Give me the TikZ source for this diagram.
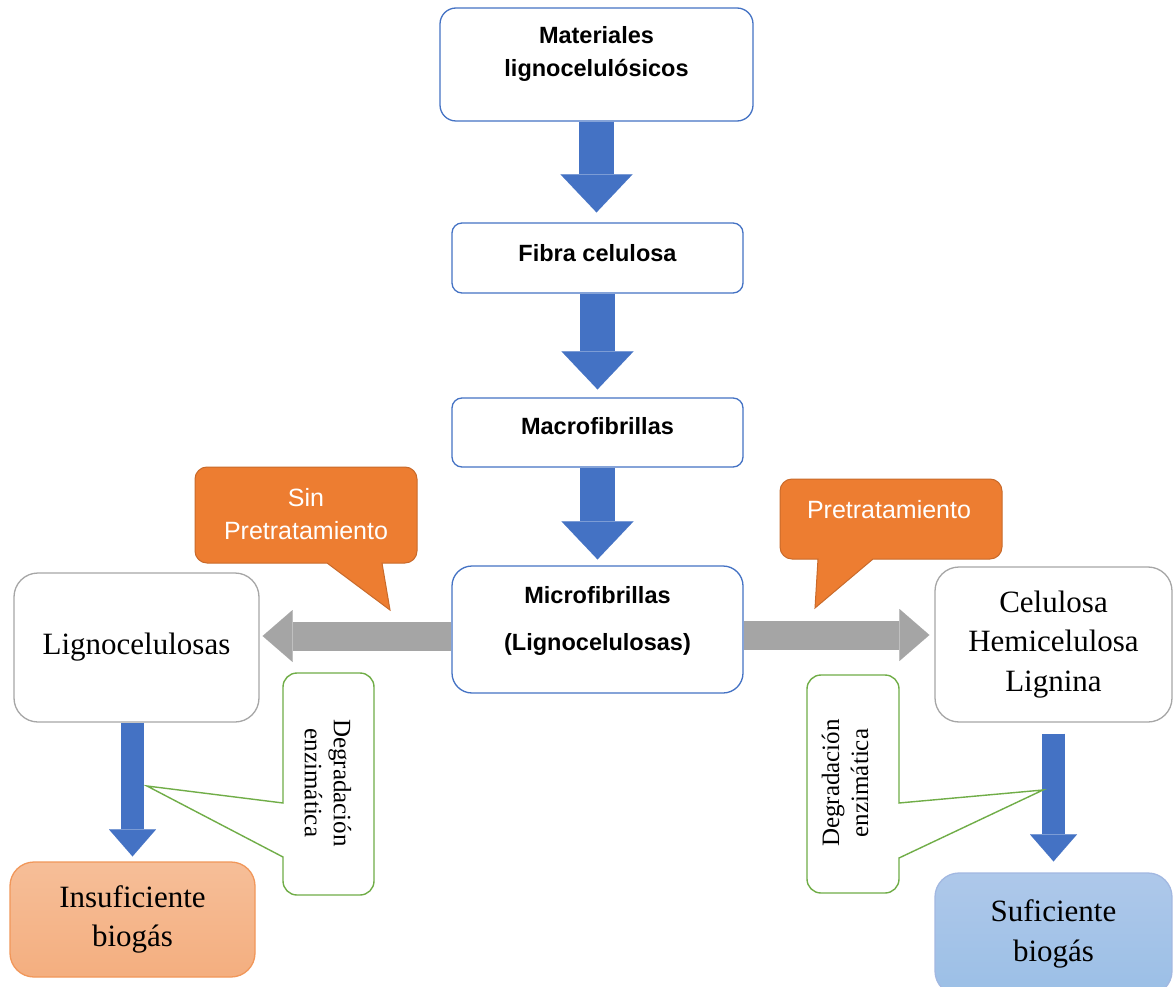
\documentclass[tikz,border=0pt]{standalone}
\usepackage{fontspec}
\setmainfont{Liberation Serif}
\setsansfont{Liberation Sans}
\usepackage{xcolor}
\usepackage{tikz}
\usetikzlibrary{arrows.meta}
\definecolor{boxblue}{HTML}{4472C4}
\definecolor{boxgray}{HTML}{A6A6A6}
\definecolor{arrowgray}{HTML}{A5A5A5}
\definecolor{callorange}{HTML}{ED7D31}
\definecolor{callgreen}{HTML}{70AD47}
\definecolor{biotop}{HTML}{AEC8EA}
\definecolor{biobottom}{HTML}{9BBFE6}
\tikzset{ flow_box/.style = {rectangle, rounded corners=16pt, draw=boxblue, line width=1.3pt, fill=white, align=center, font=\fontsize{23.5}{33}\selectfont\sffamily\bfseries} }
\tikzset{ gray_box/.style = {rectangle, rounded corners=24pt, draw=boxgray, line width=1.3pt, fill=white, align=center, font=\fontsize{31}{39.5}\selectfont} }
\tikzset{ down_arrow/.style = {draw=boxblue, line width=35pt, -{Triangle[length=38pt,width=72pt,line width=0.01pt]}} }
\tikzset{ small_arrow/.style = {draw=boxblue, line width=23pt, -{Triangle[length=27pt,width=47pt,line width=0.01pt]}} }
\tikzset{ side_arrow/.style = {draw=arrowgray, line width=29pt, -{Triangle[length=30pt,width=52pt,line width=0.01pt]}} }
\tikzset{ orange_call/.style = {fill=callorange, draw=callorange!85!black, line width=1pt} }
\tikzset{ green_call/.style = {fill=white, draw=callgreen, line width=1.4pt} }

\begin{document}
\begin{tikzpicture}[x=1pt,y=-1pt]
        \useasboundingbox[fill=white] (0,0) rectangle (1173,987);
        \node[flow_box, minimum width=313pt, minimum height=113pt, text depth=27pt] (1) at (596.5,64.5) {Materiales\\lignocelulósicos};
        \node[flow_box, rounded corners=10pt, minimum width=291pt, minimum height=70pt, text depth=10pt] (2) at (597.5,258) {Fibra celulosa};
        \node[flow_box, rounded corners=10pt, minimum width=291pt, minimum height=69pt, text depth=14pt] (3) at (597.5,432.5) {Macrofibrillas};
        \node[flow_box, rounded corners=20pt, minimum width=291pt, minimum height=127pt, text depth=22pt] (4) at (597.5,629.5) {Microfibrillas\\[14pt](Lignocelulosas)};
        \node[gray_box, minimum width=245pt, minimum height=149pt] (5) at (136.5,647.5) {Lignocelulosas};
        \node[gray_box, minimum width=237pt, minimum height=155pt] (6) at (1053.5,644.5) {Celulosa\\Hemicelulosa\\Lignina};
        \node[gray_box, draw=callorange!80, top color=callorange!50, bottom color=callorange!62, minimum width=245pt, minimum height=115pt] (7) at (132.5,919.5) {Insuficiente\\biogás};
        \node[gray_box, draw=boxblue!50, top color=biotop, bottom color=biobottom, minimum width=237pt, minimum height=122pt] (8) at (1053.5,934) {Suficiente\\biogás};
        \draw[down_arrow, shorten >=10pt] (1.south) -- (1.south |- 2.north);
        \draw[down_arrow, shorten >=8pt] (2.south) -- (3.north);
        \draw[down_arrow, shorten >=6pt] (3.south) -- (4.north);
        \draw[side_arrow, shorten >=3pt] (4.west |- 0,636) -- (5.east |- 0,636);
        \draw[side_arrow, shorten >=5pt] (4.east |- 0,635) -- (6.west |- 0,635);
        \draw[small_arrow, shorten >=5pt] (7.north |- 5.south) -- (7.north);
        \draw[small_arrow, shorten <=11pt, shorten >=11pt] (6.south) -- (8.north);
        \draw[orange_call] (390,610) -- (382,563) [rounded corners=12pt] -- (417,563) -- (417,467) -- (195,467) -- (195,563) [sharp corners] -- (327,563) -- cycle;
        \draw[orange_call] (815,608) -- (818,559) [rounded corners=12pt] -- (780,559) -- (780,479) -- (1002,479) -- (1002,559) [sharp corners] -- (873,559) -- cycle;
        \draw[green_call] (147,786) -- (283,803) [rounded corners=14pt] -- (283,673) -- (374,673) -- (374,895) -- (283,895) [sharp corners] -- (283,857) -- cycle;
        \draw[green_call] (1043,790) -- (899,803) [rounded corners=14pt] -- (899,675) -- (807,675) -- (807,893) -- (899,893) [sharp corners] -- (899,858) -- cycle;
        \node[align=center, text=white, font=\fontsize{25}{33}\selectfont\sffamily] (9) at (306,514) {Sin\\Pretratamiento};
        \node[align=center, text=white, font=\fontsize{25}{33}\selectfont\sffamily] (10) at (889,510) {Pretratamiento};
        \node[align=center, rotate=-90, font=\fontsize{25}{29}\selectfont] (11) at (328,783) {Degradación\\enzimática};
        \node[align=center, rotate=90, font=\fontsize{25}{29}\selectfont] (12) at (845,783) {Degradación\\enzimática};
        \end{tikzpicture}
\end{document}
